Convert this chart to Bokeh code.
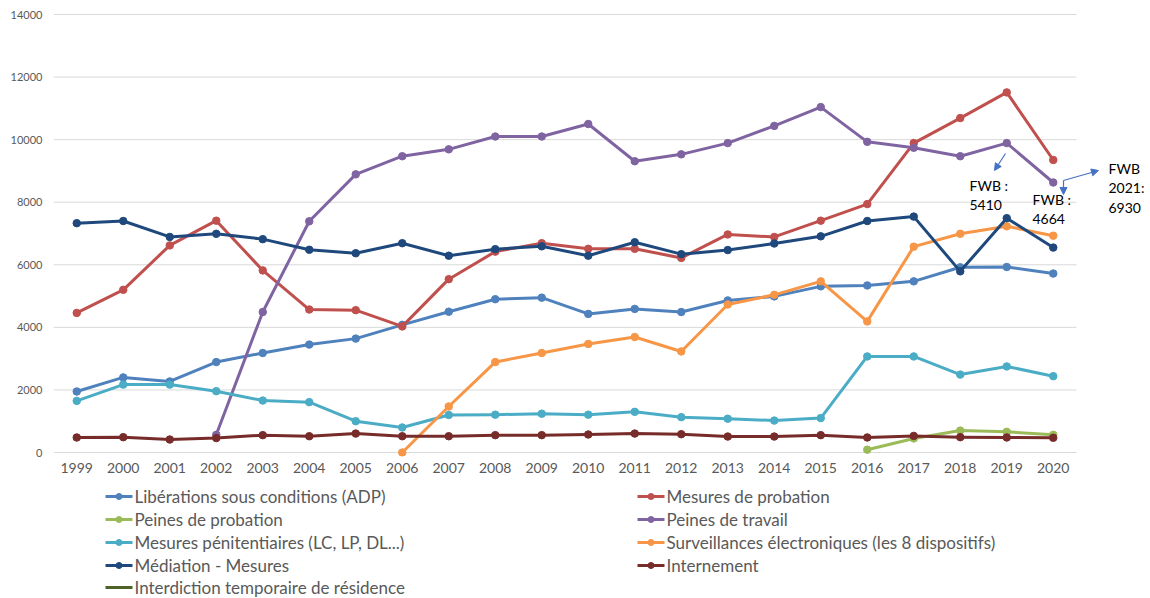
import math

from bokeh.core.properties import value
from bokeh.embed import file_html
from bokeh.layouts import column
from bokeh.models import Arrow, FixedTicker, Label, NormalHead, Range1d
from bokeh.plotting import figure
from bokeh.resources import INLINE

NAN = float("nan")

years = [str(y) for y in range(1999, 2021)]

liberations_adp = [1950, 2400, 2270, 2890, 3180, 3450, 3640, 4080, 4500, 4900, 4950,
                   4430, 4590, 4490, 4860, 4990, 5310, 5340, 5470, 5920, 5930, 5720]
mesures_probation = [4460, 5200, 6620, 7410, 5820, 4570, 4550, 4030, 5540, 6420, 6690,
                     6510, 6510, 6220, 6970, 6890, 7410, 7940, 9890, 10690, 11510, 9350]
peines_probation = [NAN] * 17 + [90, 450, 700, 660, 565]
peines_travail = [NAN] * 3 + [565, 4490, 7390, 8890, 9470, 9690, 10100, 10100, 10500,
                              9310, 9530, 9890, 10440, 11040, 9930, 9740, 9470, 9890, 8630]
mesures_penitentiaires = [1650, 2170, 2170, 1960, 1660, 1610, 1000, 800, 1200, 1210, 1240,
                          1210, 1300, 1130, 1080, 1020, 1100, 3070, 3070, 2490, 2750, 2440]
surveillances_electroniques = [NAN] * 7 + [0, 1470, 2890, 3180, 3470, 3690, 3230, 4730,
                                           5040, 5470, 4190, 6580, 6990, 7230, 6930]
mediation_mesures = [7330, 7400, 6890, 6990, 6820, 6480, 6370, 6690, 6290, 6500, 6590,
                     6290, 6720, 6340, 6470, 6680, 6910, 7400, 7540, 5790, 7490, 6550]
internement = [480, 490, 415, 460, 555, 520, 605, 520, 520, 555, 555,
               575, 605, 585, 510, 510, 555, 480, 530, 490, 480, 470]
interdiction_residence = [NAN] * 22

y_ticks = [0, 2000, 4000, 6000, 8000, 10000, 12000, 14000]

series = [
    ("Libérations sous conditions (ADP)", liberations_adp, "#4F81BD", True),
    ("Mesures de probation", mesures_probation, "#C0504D", True),
    ("Peines de probation", peines_probation, "#9BBB59", True),
    ("Peines de travail", peines_travail, "#8064A2", True),
    ("Mesures pénitentiaires (LC, LP, DL...)", mesures_penitentiaires, "#4BACC6", True),
    ("Surveillances électroniques (les 8 dispositifs)", surveillances_electroniques, "#F79646", True),
    ("Médiation - Mesures", mediation_mesures, "#1F497D", True),
    ("Internement", internement, "#772C2A", True),
    ("Interdiction temporaire de résidence", interdiction_residence, "#4F6228", False),
]

FONT = "Lato"
GREY = "#595959"

# Geometry of the plotting area (pixels)
LEFT = 53
STEP = 46.5                     # width of one year slot
PX_PER_UNIT = 438 / 14000       # vertical scale
PAD = 4                          # room above 14000 and below 0
MAIN_H = 482
n = len(years)

x_end = -0.5 + (1150 - LEFT) / STEP
y_pad = PAD / PX_PER_UNIT

p = figure(
    width=1150, height=MAIN_H,
    x_range=Range1d(-0.5, x_end),
    y_range=Range1d(-y_pad, 14000 + y_pad),
    output_backend="svg", toolbar_location=None,
    min_border_left=LEFT, min_border_right=0, min_border_top=14 - PAD,
    min_border_bottom=MAIN_H - (452 + PAD),
)
p.outline_line_color = None
p.background_fill_color = "white"
p.border_fill_color = "white"
p.xgrid.grid_line_color = None
p.ygrid.grid_line_color = None

p.xaxis.ticker = FixedTicker(ticks=list(range(n)))
p.xaxis.major_label_overrides = {i: y for i, y in enumerate(years)}
p.yaxis.ticker = FixedTicker(ticks=y_ticks)
for ax in (p.xaxis[0], p.yaxis[0]):
    ax.axis_line_color = None
    ax.major_tick_line_color = None
    ax.minor_tick_line_color = None
    ax.major_tick_out = 0
    ax.major_tick_in = 0
    ax.minor_tick_out = 0
    ax.major_label_text_color = GREY
    ax.major_label_text_font = FONT
p.yaxis.major_label_text_font_size = "11px"
p.yaxis.major_label_standoff = 11
p.xaxis.major_label_text_font_size = "14px"
p.xaxis.major_label_standoff = 6

# Horizontal gridlines spanning the year slots only
p.segment(x0=[-0.5] * len(y_ticks), y0=y_ticks, x1=[n - 0.5] * len(y_ticks), y1=y_ticks,
          line_color="#D9D9D9", line_width=1)

xs_all = list(range(n))
for name, vals, color, has_marker in series:
    xs = [x for x, v in zip(xs_all, vals) if not math.isnan(v)]
    ys = [v for v in vals if not math.isnan(v)]
    if not xs:
        continue
    p.line(xs, ys, line_color=color, line_width=3, line_join="round")
    if has_marker:
        p.scatter(xs, ys, size=7.5, fill_color=color, line_color=color)


def px(xpix):
    return (xpix - LEFT) / STEP - 0.5


def py(ypix):
    return (452 - ypix) / PX_PER_UNIT


# Callouts with FWB totals
note_style = dict(text_font=FONT, text_font_size="14px", text_color="black",
                  text_baseline="middle", text_align="left")
for txt, xx, yy in [("FWB :", 969, 185), ("5410", 969, 204),
                    ("FWB :", 1032, 199), ("4664", 1032, 218),
                    ("FWB", 1108, 168), ("2021:", 1108, 187), ("6930", 1108, 207)]:
    p.add_layout(Label(x=px(xx), y=py(yy), text=txt, **note_style))

ARROW = "#4472C4"
head = dict(size=7, fill_color=ARROW, line_color=ARROW)
p.add_layout(Arrow(x_start=px(1005), y_start=py(153), x_end=px(994), y_end=py(170),
                   line_color=ARROW, line_width=1.2, end=NormalHead(**head)))
p.add_layout(Arrow(x_start=px(1063), y_start=py(180), x_end=px(1063), y_end=py(194),
                   line_color=ARROW, line_width=1.2, end=NormalHead(**head)))
p.add_layout(Arrow(x_start=px(1063), y_start=py(180), x_end=px(1098), y_end=py(170),
                   line_color=ARROW, line_width=1.2, end=NormalHead(**head)))

# Legend panel, laid out in pixel coordinates (frame shares the left border)
LEG_H = 598 - MAIN_H
lg = figure(
    width=1150, height=LEG_H,
    x_range=Range1d(LEFT, 1150), y_range=Range1d(598, MAIN_H),
    output_backend="svg", toolbar_location=None,
    x_axis_location=None, y_axis_location=None,
    min_border_left=LEFT, min_border_right=0, min_border_top=0, min_border_bottom=0,
)
lg.outline_line_color = None
lg.xgrid.visible = False
lg.ygrid.visible = False

col_x = [105, 637]
row_y = [496, 519, 542, 565, 587]
for i, (name, vals, color, has_marker) in enumerate(series):
    cx = col_x[i % 2]
    ry = row_y[i // 2]
    lg.segment(x0=[cx], y0=[ry], x1=[cx + 27], y1=[ry], line_color=color, line_width=3)
    if has_marker:
        lg.scatter([cx + 13.5], [ry], size=6, fill_color=color, line_color=color)
    lg.text([cx + 29], [ry], text=[name], text_font=value(FONT), text_font_size="17px",
            text_color=GREY, text_baseline="middle", text_align="left")

layout = column(p, lg, spacing=0)
open("out.html", "w").write(file_html(layout, INLINE))
